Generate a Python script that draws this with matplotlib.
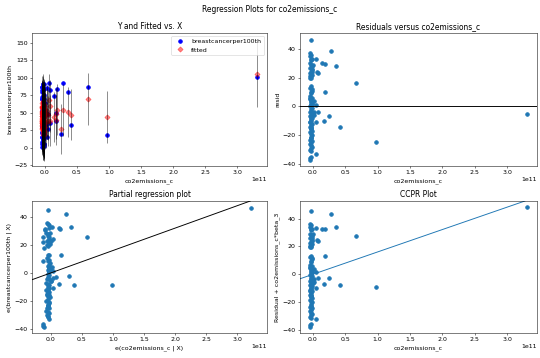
import matplotlib
matplotlib.use("Agg")
import matplotlib.pyplot as plt
import numpy as np

SCALE = 1e11  # x values below are given in units of 1e11

# co2emissions_c (units of 1e11): 18 spread-out countries, then the dense cluster near zero
co2 = [3.30, 0.97, 0.67, 0.41, 0.36, 0.28, 0.25, 0.19, 0.17, 0.18,
       0.14, 0.08, 0.08, 0.06, 0.05, 0.04, 0.05, 0.04,
       -0.03, -0.04, -0.035, -0.04, -0.02, -0.03, -0.045, -0.03, -0.02, -0.04,
       -0.01, -0.035, -0.04, -0.02, -0.03, -0.045, -0.03, -0.03, -0.04, -0.02,
       -0.01, -0.035, -0.03, -0.04, -0.02, -0.045, -0.03, -0.035, -0.01, -0.03,
       -0.04, -0.02, -0.035, -0.03, -0.045, -0.02, -0.03, -0.04, -0.01, -0.035,
       -0.03, -0.04, -0.02, -0.03, -0.045, -0.03, -0.035, -0.02, -0.04, -0.03,
       -0.01, -0.035, -0.03, -0.04, -0.02, -0.03, -0.045, -0.035, -0.02, -0.03,
       -0.04, -0.03, -0.035, -0.045, -0.04, -0.03, -0.02, -0.04, -0.025, -0.035,
       -0.03, -0.02, -0.04, -0.03, -0.01, 0.0, -0.045, -0.03, 0.01, 0.0,
       0.02, 0.01]

# breastcancerper100th (observed)
observed = [101, 19, 86.5, 33, 79.5, 92, 20, 84, 39, 50,
            74, 35, 83, 92, 27, 16, 48, 86,
            91, 87, 91, 83, 91, 74, 70, 65, 75, 87,
            55, 68, 51, 84, 54, 72, 45, 55, 48, 61,
            33, 67, 47, 34, 60, 36, 50, 66, 26, 40,
            51, 28, 42, 31, 54, 21, 41, 30, 45, 12,
            32, 21, 48, 15, 31, 21, 34, 6, 23, 14,
            35, 5, 26, 15, 6, 18, 9, 25, 3, 11,
            16, 5, 4, 6, 1, 85, 44, 70, 68, 5,
            59, 20, 80, 2, 70, 64, 46, 14, 52, 35,
            33, 49]

# fitted values of the model
fitted = [106, 43.5, 70, 47.5, 51.5, 53.5, 27, 54.5, 49, 40,
          44, 39, 60, 68, 38, 49, 47, 53,
          45, 50, 55, 48, 58, 42, 40, 36, 47, 60,
          30, 44, 28, 62, 33, 52, 25, 41, 35, 49,
          22, 57, 38, 27, 54, 31, 46, 63, 24, 39,
          51, 29, 44, 34, 58, 26, 47, 37, 53, 21,
          42, 32, 60, 28, 45, 36, 50, 23, 41, 33,
          55, 26, 48, 38, 30, 43, 35, 52, 31, 40,
          46, 36, 39, 42, 38, 52, 20, 64, 66, 19,
          67, 18, 59, 24, 44, 35, 57, 29, 48, 41,
          37, 55]

# half width of the prediction interval for each point
pi_half = [47, 37, 37, 36, 36, 37, 36, 36, 36, 36,
           36, 36, 37, 37, 36, 36, 36, 37,
           37, 37, 38, 37, 37, 37, 38, 37, 37, 37,
           38, 37, 37, 37, 37, 38, 37, 37, 37, 37,
           37, 37, 38, 37, 37, 37, 37, 37, 38, 37,
           37, 37, 37, 38, 37, 37, 37, 37, 37, 38,
           37, 37, 37, 37, 38, 37, 37, 37, 37, 37,
           37, 38, 37, 37, 37, 37, 38, 37, 37, 37,
           37, 37, 37, 38, 37, 37, 37, 38, 37, 37,
           38, 37, 37, 37, 37, 37, 37, 37, 37, 37,
           37, 37]

# e(co2emissions_c | X): co2 residualised on the other regressors (units of 1e11)
partial_x = [3.22, 0.98, 0.59, 0.38, 0.32, 0.24, 0.29, 0.15, 0.14, 0.16,
             0.13, 0.08, 0.01, 0.03, 0.03, -0.02, 0.04, 0.02,
             -0.05, -0.06, -0.04, -0.02, -0.03, -0.09, -0.07, -0.05, -0.12, -0.04,
             -0.03, -0.06, -0.02, -0.03, -0.01, -0.11, -0.04, -0.05, -0.02, -0.06,
             -0.13, -0.03, -0.04, -0.01, -0.05, -0.03, -0.02, -0.04, 0.0, -0.03,
             -0.05, -0.02, -0.04, -0.06, -0.03, -0.01, -0.07, -0.04, -0.02, -0.05,
             -0.03, -0.08, -0.04, -0.02, -0.06, -0.03, -0.05, -0.01, -0.04, -0.07,
             -0.03, -0.02, -0.05, -0.04, -0.06, -0.03, -0.08, -0.05, -0.03, -0.06,
             -0.04, -0.05, -0.12, -0.13, -0.11, -0.09, -0.12, -0.03, -0.02, -0.04,
             -0.05, -0.03, -0.06, -0.04, -0.02, -0.01, -0.05, -0.06, 0.02, 0.01,
             0.03, 0.0]

beta_co2 = 16.1  # coefficient of co2emissions_c per 1e11

x = np.array(co2) * SCALE
y = np.array(observed, dtype=float)
fit = np.array(fitted, dtype=float)
half = np.array(pi_half, dtype=float)
resid = y - fit
px = np.array(partial_x) * SCALE
py = resid + beta_co2 * np.array(partial_x)
ccpr = resid + beta_co2 * np.array(co2)
slope = beta_co2 / SCALE

W, H = 540, 358
fig = plt.figure(figsize=(W / 45, H / 45), dpi=45)

def rect(l, t, r, b):
    return [l / W, 1 - b / H, (r - l) / W, (b - t) / H]

ax1 = fig.add_axes(rect(32, 33, 267, 166))
ax2 = fig.add_axes(rect(300, 33, 537, 166))
ax3 = fig.add_axes(rect(32, 201, 267, 333))
ax4 = fig.add_axes(rect(300, 201, 537, 333))

fig.suptitle("Regression Plots for co2emissions_c", fontsize="large", y=0.985)

# Y and fitted vs X
ax1.plot(x, y, 'bo', label='breastcancerper100th')
ax1.plot(x, fit, 'D', color='r', label='fitted', alpha=.5)
ax1.vlines(x, fit - half, fit + half, linewidth=1, color='k', alpha=.7)
ax1.set_title("Y and Fitted vs. X", fontsize="large")
ax1.set_xlabel("co2emissions_c")
ax1.set_ylabel("breastcancerper100th")
ax1.legend(loc="upper right")
ax1.set_xlim(-0.2e11, 3.46e11)
ax1.set_ylim(-26, 164)
ax1.set_yticks([-25, 0, 25, 50, 75, 100, 125, 150])

# Residuals
ax2.plot(x, resid, 'o')
ax2.axhline(y=0, color='black')
ax2.set_title("Residuals versus co2emissions_c", fontsize="large")
ax2.set_xlabel("co2emissions_c")
ax2.set_ylabel("resid")
ax2.set_xlim(-0.2e11, 3.46e11)
ax2.set_ylim(-41.4, 51)

# Partial regression
ax3.plot(px, py, 'o')
ax3.axline((0, 0), slope=slope, color='k')
ax3.set_title("Partial regression plot", fontsize="large")
ax3.set_xlabel("e(co2emissions_c | X)")
ax3.set_ylabel("e(breastcancerper100th | X)")
ax3.set_xlim(-0.30e11, 3.48e11)
ax3.set_ylim(-43.1, 51.7)

# CCPR
ax4.plot(x, ccpr, 'o')
ax4.axline((0, 0), slope=slope, color='C0')
ax4.set_title("CCPR Plot", fontsize="large")
ax4.set_xlabel("co2emissions_c")
ax4.set_ylabel("Residual + co2emissions_c*beta_3")
ax4.set_xlim(-0.2e11, 3.46e11)
ax4.set_ylim(-42.2, 52.7)

for ax in (ax1, ax2, ax3, ax4):
    ax.set_xticks([0, 0.5e11, 1e11, 1.5e11, 2e11, 2.5e11, 3e11])

fig.savefig("out.png", dpi=45)
